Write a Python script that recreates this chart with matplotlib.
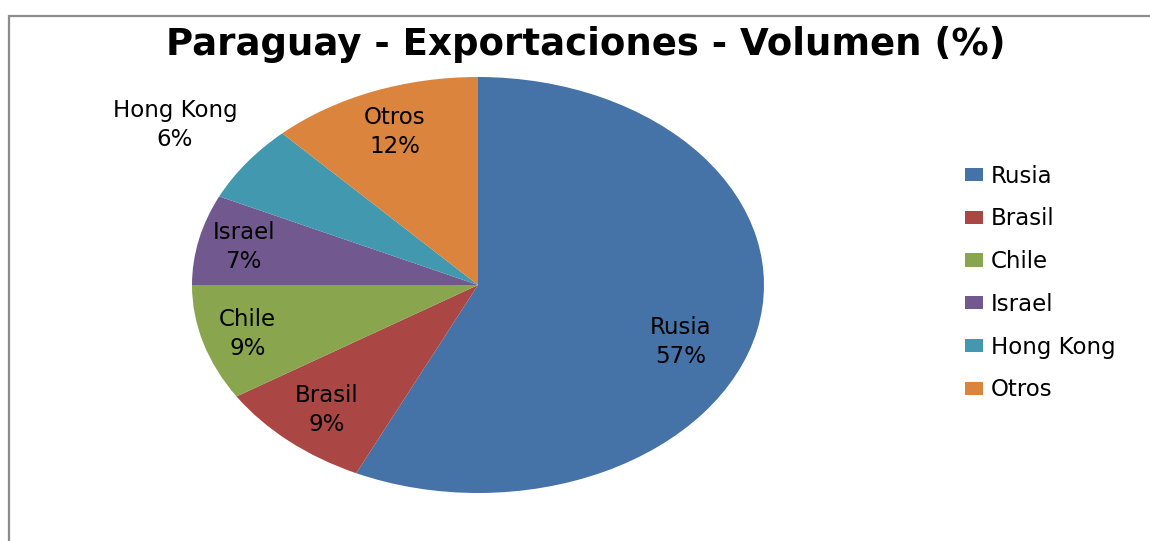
import numpy as np
import matplotlib.pyplot as plt
from matplotlib.patches import Rectangle, Patch

# === Data ===
paises = ['Rusia', 'Brasil', 'Chile', 'Israel', 'Hong Kong', 'Otros']
volumen = [57, 9, 9, 7, 6, 12]
colores = ['#4572A7', '#AA4643', '#89A54E', '#71588F', '#4198AF', '#DB843D']

# data label placement: distance from centre (fraction of radius) and angle nudge (deg)
label_r = [0.76, 0.80, 0.84, 0.84, 1.31, 0.79]
label_dang = [-8.5, 0, 0, 0, 0, 0]

fig = plt.figure(figsize=(11.5, 5.41), dpi=100)
plt.rcParams['font.family'] = ['DejaVu Sans']

# outer chart border (only top and left visible in the crop)
fig.patches.append(Rectangle((9 / 1150, -0.2), 1.2, 1 - 16 / 541 + 0.2,
                             transform=fig.transFigure, fill=False,
                             edgecolor='#8c8c8c', linewidth=1.6))

# pie drawn in a non-square box so it comes out as an ellipse
ax = fig.add_axes([192 / 1150, 48 / 541, 572 / 1150, 416 / 541])
wedges, _ = ax.pie(volumen, colors=colores, startangle=90, counterclock=False,
                   radius=1.0, wedgeprops=dict(linewidth=0))
ax.set_aspect('auto')
ax.set_xlim(-1, 1)
ax.set_ylim(-1, 1)
ax.axis('off')

total = sum(volumen)
for w, nombre, v, r, da in zip(wedges, paises, volumen, label_r, label_dang):
    ang = np.deg2rad((w.theta1 + w.theta2) / 2 + da)
    ax.text(r * np.cos(ang), r * np.sin(ang), f"{nombre}\n{round(v / total * 100)}%",
            ha='center', va='center', fontsize=16.5, linespacing=1.35, clip_on=False)

fig.text(0.509, 1 - 45 / 541, 'Paraguay - Exportaciones - Volumen (%)',
         ha='center', va='center', fontsize=26.7, fontweight='bold')

handles = [Patch(facecolor=c, edgecolor='none') for c in colores]
fig.legend(handles, paises, loc='center left', bbox_to_anchor=(965 / 1150, 1 - 283 / 541),
           frameon=False, fontsize=16.5, handlelength=0.78, handleheight=0.5,
           handletextpad=0.35, labelspacing=0.86, borderpad=0, borderaxespad=0)

fig.savefig('out.png', dpi=100)
